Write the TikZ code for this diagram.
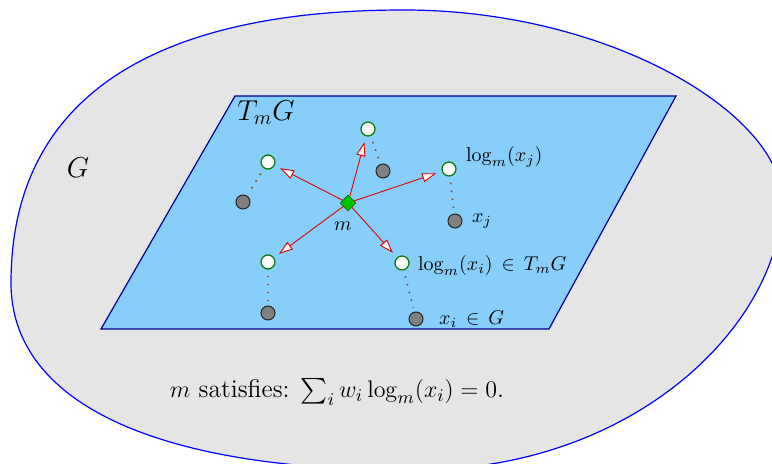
\documentclass[tikz,border=0pt]{standalone}
\usepackage{amsmath}
\usepackage{amssymb}
\usepackage{xcolor}
\usepackage{tikz}
\usetikzlibrary{arrows.meta,shapes.geometric}
\definecolor{frechetBlue}{HTML}{0000FF}
\definecolor{frechetNavy}{HTML}{000090}
\definecolor{frechetSky}{HTML}{87CEFA}
\definecolor{frechetGray}{HTML}{E5E5E5}
\definecolor{frechetGreen}{HTML}{00C000}
\definecolor{frechetDarkGreen}{HTML}{007A00}
\definecolor{frechetRed}{HTML}{E00000}
\definecolor{frechetBrown}{HTML}{8B4513}
\tikzset{
  manifold/.style={draw=frechetBlue, fill=frechetGray, line width=0.6pt},
  tangent plane/.style={draw=frechetNavy, fill=frechetSky, line width=0.6pt},
  mean point/.style={diamond, draw=frechetDarkGreen, fill=frechetGreen,
    minimum size=8pt, inner sep=0pt, line width=0.4pt},
  log point/.style={circle, draw=frechetDarkGreen, fill=white,
    minimum size=7pt, inner sep=0pt, line width=0.6pt},
  data point/.style={circle, draw=black!85, fill=black!50,
    minimum size=7pt, inner sep=0pt, line width=0.5pt},
  log arrow/.style={-{Triangle[length=7pt, width=4.6pt, fill=white]},
    draw=frechetRed, line width=0.45pt, shorten >=3pt},
  geo link/.style={draw=frechetBrown, line width=0.8pt,
    dash pattern=on 0.8pt off 3.2pt, shorten <=3pt, shorten >=2pt},
  point label/.style={font=\normalsize}
}
\begin{document}
\begin{tikzpicture}[x=0.5pt, y=-0.5pt]
  \useasboundingbox (0,0) rectangle (772,464);
  \clip (0,0) rectangle (772,464);
  % the manifold G and its tangent space at m
  \draw[manifold] (404,10) .. controls (611,10) and (782,115) .. (782,200)
    .. controls (782,320) and (640,468) .. (420,470)
    .. controls (150,472) and (11,400) .. (11,283)
    .. controls (11,100) and (150,10) .. cycle;
  \draw[tangent plane] (235,96) -- (676,96) -- (549,329) -- (101,329) -- cycle;
  \node[font=\Large] (Glabel) at (78,168) {$G$};
  \node[font=\Large] (TmGlabel) at (266,113) {$T_mG$};

  \node[mean point] (m) at (348,203) {};
  \node[point label] (mlabel) at (343,226) {$m$};

  \node[log point] (v1) at (368,129) {};
  \node[log point] (v2) at (268,162) {};
  \node[log point] (v3) at (449,169) {};
  \node[log point] (v4) at (268,262) {};
  \node[log point] (v5) at (402,263) {};
  \node[data point] (x1) at (383,171) {};
  \node[data point] (x2) at (243,202) {};
  \node[data point] (x3) at (455,221) {};
  \node[data point] (x4) at (268,313) {};
  \node[data point] (x5) at (416,319) {};

  \foreach \k in {1,...,5} {
    \draw[log arrow] (m) -- (v\k);
    \draw[geo link] (v\k) -- (x\k);
  }

  \node[point label, anchor=west] (logj) at (459,157) {$\log_m(x_j)$};
  \node[point label, anchor=west] (xj) at (465,221) {$x_j$};
  \node[point label, anchor=west] (logi) at (411,266) {$\log_m(x_i)\,\in\,T_mG$};
  \node[point label, anchor=west] (xi) at (432,319) {$x_i\,\in\,G$};
  \node[font=\fontsize{12.8}{15}\selectfont] (cond) at (337,392)
    {$m$ satisfies: $\sum_i w_i \log_m(x_i)=0$.};
\end{tikzpicture}
\end{document}
